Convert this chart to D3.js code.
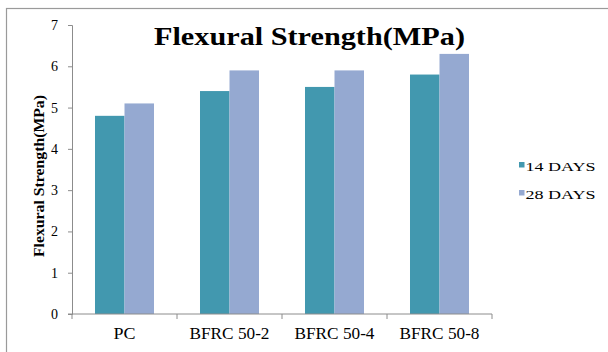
<!DOCTYPE html>
<html>
<head>
<meta charset="utf-8">
<script src="https://cdn.jsdelivr.net/npm/d3@7/dist/d3.min.js"></script>
<style>
  html, body { margin: 0; padding: 0; background: #fff; }
  svg { display: block; }
  text { font-family: "Liberation Serif", "Times New Roman", serif; fill: #000; }
</style>
</head>
<body>
<svg id="chart" width="608" height="352"></svg>
<script>
// Flexural strength (MPa) at 14 and 28 days for each mix
const categories = ["PC", "BFRC 50-2", "BFRC 50-4", "BFRC 50-8"];
const seriesNames = ["14 DAYS", "28 DAYS"];
const days14 = [4.8, 5.4, 5.5, 5.8];
const days28 = [5.1, 5.9, 5.9, 6.3];
const yTicks = [0, 1, 2, 3, 4, 5, 6, 7];
const colors = ["#4298AF", "#95A9D1"];

const svg = d3.select("#chart");

// outer chart frame (runs off the right and bottom edges)
svg.append("rect")
  .attr("x", 6.5).attr("y", 8.5)
  .attr("width", 640).attr("height", 380)
  .attr("fill", "none").attr("stroke", "#9a9a9a").attr("stroke-width", 1.2);

const plotLeft = 72, plotRight = 492, plotTop = 25, plotBottom = 314;

const x0 = d3.scaleBand()
  .domain(categories)
  .range([plotLeft, plotRight])
  .paddingInner(0.438)
  .paddingOuter(0.219);

const x1 = d3.scaleBand()
  .domain(seriesNames)
  .range([0, x0.bandwidth()]);

const y = d3.scaleLinear().domain([0, 7]).range([plotBottom, plotTop]);

const rows = categories.map((c, i) => ({ cat: c, values: [days14[i], days28[i]] }));

// bars
const groups = svg.append("g").selectAll("g")
  .data(rows).join("g")
  .attr("transform", d => `translate(${x0(d.cat)},0)`);

groups.selectAll("rect")
  .data(d => d.values.map((v, k) => ({ name: seriesNames[k], v, k })))
  .join("rect")
  .attr("x", d => x1(d.name))
  .attr("width", x1.bandwidth())
  .attr("y", d => y(d.v))
  .attr("height", d => y(0) - y(d.v))
  .attr("fill", d => colors[d.k]);

// y axis
const yAxis = svg.append("g")
  .attr("transform", `translate(${plotLeft},0)`)
  .call(d3.axisLeft(y).tickValues(yTicks).tickFormat(d3.format("d")).tickSize(4).tickPadding(10));
yAxis.select(".domain").attr("stroke", "#8c8c8c");
yAxis.selectAll(".tick line").attr("stroke", "#8c8c8c");
yAxis.selectAll(".tick text")
  .attr("font-family", "Liberation Serif, serif")
  .attr("font-size", 14).attr("fill", "#000");

// x axis with ticks on the category boundaries
const xAxisG = svg.append("g").attr("transform", `translate(0,${plotBottom})`);
xAxisG.append("line")
  .attr("x1", plotLeft - 4).attr("x2", plotRight)
  .attr("stroke", "#8c8c8c");
const boundaries = categories.map(c => x0(c) - x0.step() * x0.paddingInner() / 2)
  .map((b, i) => i === 0 ? plotLeft : b).concat([plotRight]);
xAxisG.selectAll("line.tk")
  .data(boundaries).join("line").attr("class", "tk")
  .attr("x1", d => d).attr("x2", d => d)
  .attr("y1", 0).attr("y2", 5)
  .attr("stroke", "#8c8c8c");
xAxisG.selectAll("text")
  .data(categories).join("text")
  .attr("x", d => x0(d) + x0.bandwidth() / 2)
  .attr("y", 25)
  .attr("text-anchor", "middle")
  .attr("font-size", 16)
  .attr("textLength", d => d === "PC" ? 22 : 80)
  .attr("lengthAdjust", "spacingAndGlyphs")
  .text(d => d);

// title
svg.append("text")
  .attr("x", 309.5).attr("y", 45)
  .attr("text-anchor", "middle")
  .attr("font-size", 26).attr("font-weight", "bold")
  .attr("textLength", 311).attr("lengthAdjust", "spacingAndGlyphs")
  .text("Flexural Strength(MPa)");

// y axis title
svg.append("text")
  .attr("transform", "translate(44,176) rotate(-90)")
  .attr("text-anchor", "middle")
  .attr("font-size", 14).attr("font-weight", "bold")
  .attr("textLength", 162).attr("lengthAdjust", "spacingAndGlyphs")
  .text("Flexural Strength(MPa)");

// legend
const legend = svg.append("g");
const legendY = [162, 190];
seriesNames.forEach((name, i) => {
  legend.append("rect")
    .attr("x", 519).attr("y", legendY[i])
    .attr("width", 5.5).attr("height", 5.5)
    .attr("fill", colors[i]);
  legend.append("text")
    .attr("x", 525.5).attr("y", legendY[i] + 8.7)
    .attr("font-size", 13)
    .attr("textLength", 70).attr("lengthAdjust", "spacingAndGlyphs")
    .text(name);
});
</script>
</body>
</html>
